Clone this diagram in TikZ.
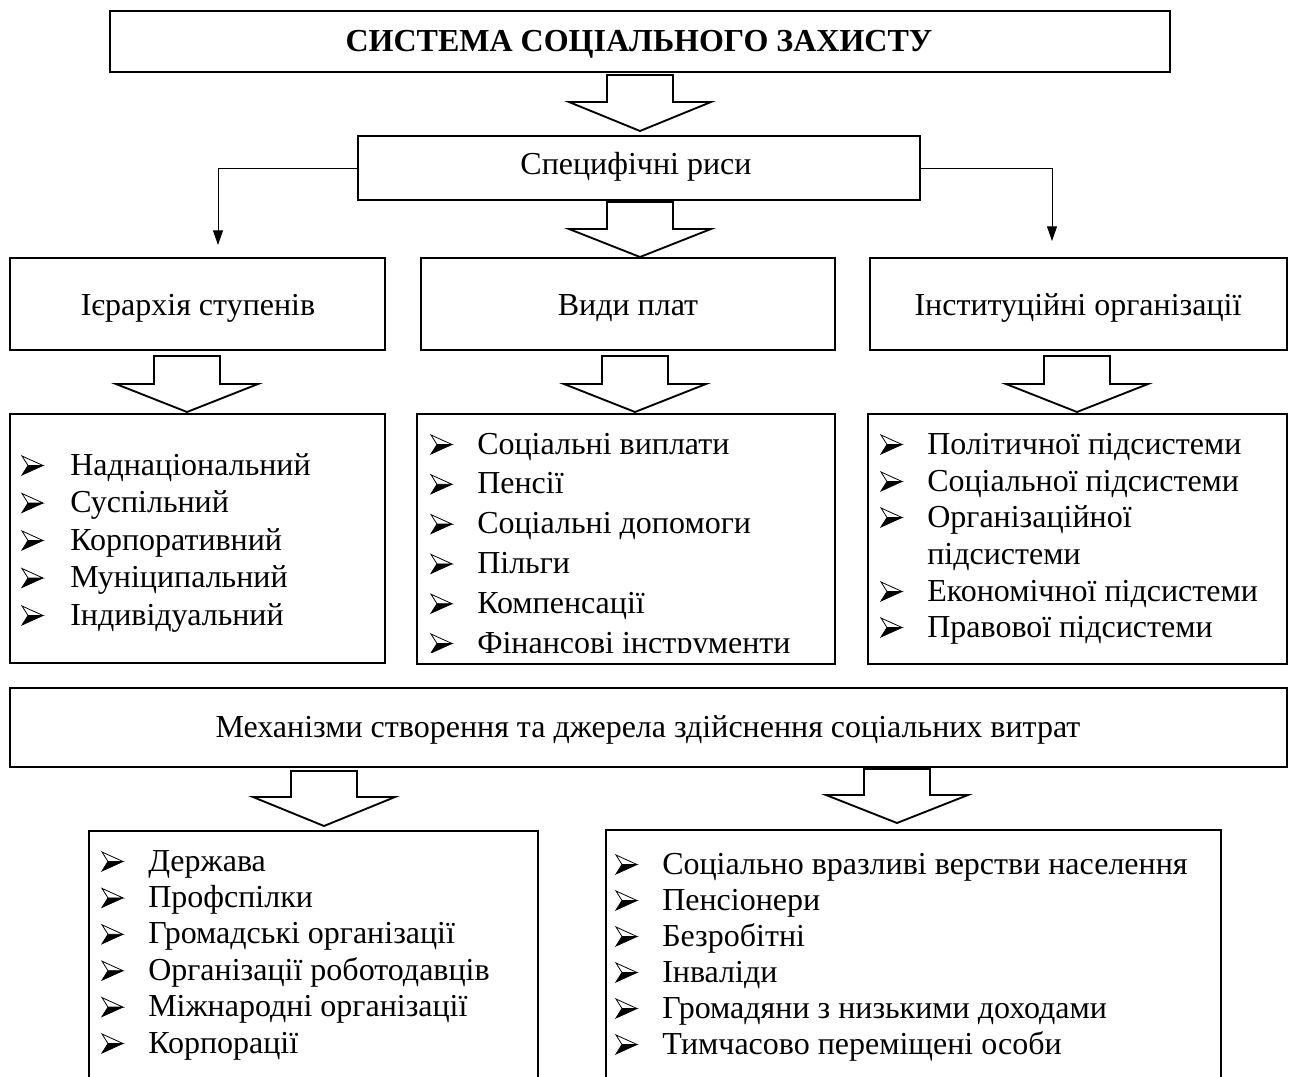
\documentclass[tikz,border=0pt]{standalone}
\usepackage{fontspec}
\setmainfont{Liberation Serif}
\usetikzlibrary{fit,arrows.meta}
\begin{document}
\begin{tikzpicture}[x=0.75pt,y=-0.75pt,
  box/.style={draw, line width=1.5pt, inner sep=0pt},
  lbl/.style={anchor=base, inner sep=0pt, font=\fontsize{24}{28}\selectfont},
  txt/.style={anchor=base west, inner sep=0pt, text height=16pt, text depth=5pt, font=\fontsize{24}{28}\selectfont},
  barrow/.style={draw, line width=1.4pt, fill=white, line join=miter},
  thinarrow/.style={line width=0.7pt, -{Triangle[length=11pt,width=7.5pt]}},
  bulletpic/.pic={
    \draw[line width=0.6pt, line join=miter, fill=white] (0,-19) -- (21,-9.5) -- (6,-9.5) -- cycle;
    \fill[black] (6,-9.5) -- (21,-9.5) -- (0,0) -- cycle;
    \draw[line width=0.6pt, line join=miter] (6,-9.5) -- (0,0) -- (21,-9.5);
  }
]
\clip (0,0) rectangle (1296,1077);
\fill[white] (0,0) rectangle (1296,1077);

% boxes
\node[box, line width=2pt, fit={(110,11) (1170,72)}] (title) {};
\node[lbl, font=\bfseries\fontsize{24}{28}\selectfont] (titletxt) at (639,52) {СИСТЕМА СОЦІАЛЬНОГО ЗАХИСТУ};
\node[box, fit={(358,136) (920,200)}] (spec) {};
\node[lbl] (spectxt) at (636,175) {Специфічні риси};

\node[box, fit={(10,258) (385,350)}] (ier) {};
\node[lbl] (iertxt) at (198,315) {Ієрархія ступенів};
\node[box, fit={(421,258) (835,350)}] (vydy) {};
\node[lbl] (vydytxt) at (628,315) {Види плат};
\node[box, fit={(870,258) (1287,350)}] (inst) {};
\node[lbl] (insttxt) at (1078,315) {Інституційні організації};

\node[box, fit={(10,414) (385,663)}] (l1) {};
\node[box, fit={(417,414) (835,664)}] (l2) {};
\node[box, fit={(868,414) (1287,664)}] (l3) {};

\node[box, fit={(10,688) (1287,767)}] (mech) {};
\node[lbl] (mechtxt) at (648,737) {Механізми створення та джерела здійснення соціальних витрат};

\node[box, fit={(89,831) (538,1100)}] (l4) {};
\node[box, fit={(606,830) (1221,1100)}] (l5) {};

% block arrows
\newcommand\blockarr[4]{% x, top, head, tip-node
  \draw[barrow] ({#1-33},#2) -- ({#1+33},#2) -- ({#1+33},#3) -- ({#1+71},#3)
     -- (#1,0 |- #4) -- ({#1-71},#3) -- ({#1-33},#3) -- cycle;}
\coordinate (t1) at (640,131);
\blockarr{640}{75}{102}{t1}
\blockarr{640}{202}{229}{vydy.north}
\coordinate (t3) at (187,412);
\blockarr{187}{356}{384}{t3}
\coordinate (t4) at (635,412);
\blockarr{635}{356}{384}{t4}
\coordinate (t5) at (1077,412);
\blockarr{1077}{356}{384}{t5}
\coordinate (t6) at (324,826);
\blockarr{324}{771}{797}{t6}
\coordinate (t7) at (897,823);
\blockarr{897}{769}{795}{t7}

% thin arrows
\coordinate (la) at (218,245);
\coordinate (ra) at (1052,241);
\draw[thinarrow] (spec.west) -| (la);
\draw[thinarrow] (spec.east) -| (ra);

% list 1
\foreach \t [count=\i] in {Наднаціональний,Суспільний,Корпоративний,Муніципальний,Індивідуальний}{
  \pic at (22,{475+37.5*(\i-1)}) {bulletpic};
  \node[txt] (a1\i) at (70,{475+37.5*(\i-1)}) {\t};
}
% list 2 (clipped)
\begin{scope}
\clip (417,414) rectangle (835,652);
\foreach \t [count=\i] in {Соціальні виплати,Пенсії,Соціальні допомоги,Пільги,Компенсації,Фінансові інструменти}{
  \pic at (431,{454+39.8*(\i-1)}) {bulletpic};
  \node[txt] (a2\i) at (477,{454+39.8*(\i-1)}) {\t};
}
\end{scope}
% list 3
\foreach \yy in {454,491,527,601,637}{ \pic at (881,\yy) {bulletpic}; }
\node[txt] (a31) at (927,454) {Політичної підсистеми};
\node[txt] (a32) at (927,491) {Соціальної підсистеми};
\node[txt] (a33) at (927,527) {Організаційної};
\node[txt] (a34) at (927,564) {підсистеми};
\node[txt] (a35) at (927,601) {Економічної підсистеми};
\node[txt] (a36) at (927,637) {Правової підсистеми};
% list 4
\foreach \t [count=\i] in {Держава,Профспілки,Громадські організації,Організації роботодавців,Міжнародні організації,Корпорації}{
  \pic at (102,{871+36.4*(\i-1)}) {bulletpic};
  \node[txt] (a4\i) at (148,{871+36.4*(\i-1)}) {\t};
}
% list 5
\foreach \t [count=\i] in {Соціально вразливі верстви населення,Пенсіонери,Безробітні,Інваліди,Громадяни з низькими доходами,Тимчасово переміщені особи}{
  \pic at (616,{874+36*(\i-1)}) {bulletpic};
  \node[txt] (a5\i) at (662,{874+36*(\i-1)}) {\t};
}
\end{tikzpicture}
\end{document}
